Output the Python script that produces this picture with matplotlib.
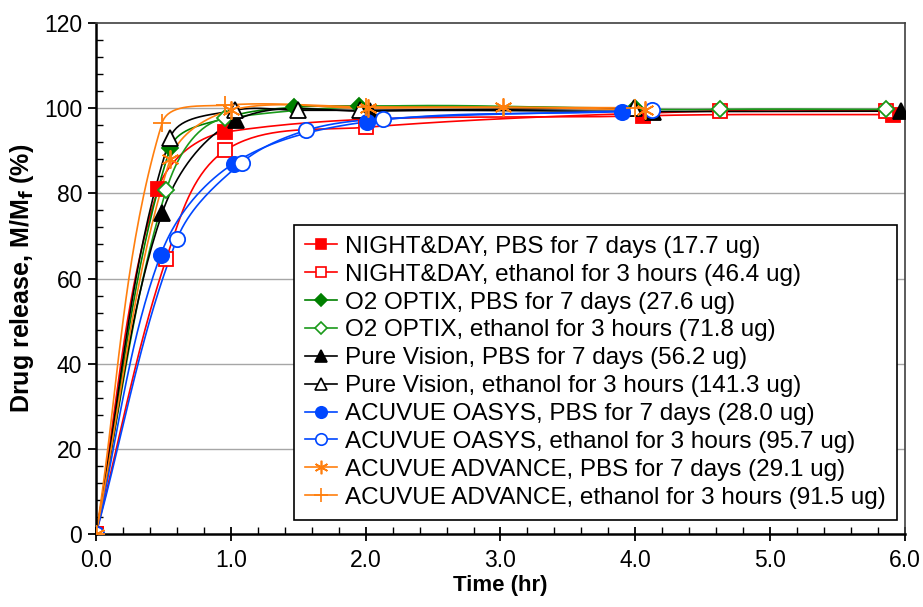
import numpy as np
import matplotlib.pyplot as plt

plt.rcParams['font.family'] = ['Liberation Sans', 'DejaVu Sans']

# ---------------------------------------------------------------
# Data (time in hr, release in %)
# ---------------------------------------------------------------
nd_pbs_t = [0.0, 0.46, 0.96, 4.06, 5.91]
nd_pbs_y = [0.0, 81.0, 94.4, 98.2, 98.5]

nd_eth_t = [0.0, 0.52, 0.96, 2.0, 4.63, 5.86]
nd_eth_y = [0.0, 64.5, 90.1, 95.5, 99.4, 99.4]

o2_pbs_t = [0.0, 0.55, 1.0, 1.47, 1.95, 4.0]
o2_pbs_y = [0.0, 90.6, 98.0, 100.2, 100.5, 100.0]

o2_eth_t = [0.0, 0.52, 0.96, 4.63, 5.86]
o2_eth_y = [0.0, 80.7, 97.6, 99.7, 99.7]

pv_pbs_t = [0.0, 0.49, 1.04, 2.03, 4.13, 5.97]
pv_pbs_y = [0.0, 75.3, 97.2, 99.3, 99.2, 99.3]

pv_eth_t = [0.0, 0.55, 1.03, 1.5, 1.96, 3.99]
pv_eth_y = [0.0, 93.0, 99.5, 99.5, 99.5, 100.0]

oa_pbs_t = [0.0, 0.48, 1.02, 2.01, 3.9]
oa_pbs_y = [0.0, 65.6, 87.0, 96.8, 99.2]

oa_eth_t = [0.0, 0.60, 1.08, 1.56, 2.13, 4.12]
oa_eth_y = [0.0, 69.2, 87.2, 94.8, 97.5, 99.5]

ad_pbs_t = [0.0, 0.55, 1.0, 2.02, 3.02, 4.07]
ad_pbs_y = [0.0, 88.0, 99.5, 100.0, 100.2, 99.6]

ad_eth_t = [0.0, 0.49, 0.96, 2.0, 4.0]
ad_eth_y = [0.0, 96.5, 100.7, 100.3, 100.1]

labels = [
    "NIGHT&DAY, PBS for 7 days (17.7 ug)",
    "NIGHT&DAY, ethanol for 3 hours (46.4 ug)",
    "O2 OPTIX, PBS for 7 days (27.6 ug)",
    "O2 OPTIX, ethanol for 3 hours (71.8 ug)",
    "Pure Vision, PBS for 7 days (56.2 ug)",
    "Pure Vision, ethanol for 3 hours (141.3 ug)",
    "ACUVUE OASYS, PBS for 7 days (28.0 ug)",
    "ACUVUE OASYS, ethanol for 3 hours (95.7 ug)",
    "ACUVUE ADVANCE, PBS for 7 days (29.1 ug)",
    "ACUVUE ADVANCE, ethanol for 3 hours (91.5 ug)",
]

series = [
    (nd_pbs_t, nd_pbs_y), (nd_eth_t, nd_eth_y),
    (o2_pbs_t, o2_pbs_y), (o2_eth_t, o2_eth_y),
    (pv_pbs_t, pv_pbs_y), (pv_eth_t, pv_eth_y),
    (oa_pbs_t, oa_pbs_y), (oa_eth_t, oa_eth_y),
    (ad_pbs_t, ad_pbs_y), (ad_eth_t, ad_eth_y),
]

red, green, blue, orange = "#ff0000", "#008000", "#0047ff", "#ff7f0e"
styles = [
    dict(color=red, marker="s", mfc=red, ms=10),
    dict(color=red, marker="s", mfc="white", ms=10),
    dict(color=green, marker="D", mfc=green, ms=8),
    dict(color="#1a9a1a", marker="D", mfc="white", ms=8),
    dict(color="black", marker="^", mfc="black", ms=11),
    dict(color="black", marker="^", mfc="white", ms=11),
    dict(color=blue, marker="o", mfc=blue, ms=11),
    dict(color=blue, marker="o", mfc="white", ms=11),
    dict(color=orange, marker=(6, 2, 0), mfc=orange, ms=13),
    dict(color=orange, marker="+", mfc=orange, ms=13),
]

# approx. pixels per data unit, so the smoothing works in screen space
SX, SY = 135.0, 4.25


def smooth(xs, ys, n=40, k=1 / 3):
    # smoothed line like a spreadsheet chart: cubic Bezier segments,
    # tangent along the neighbours, length scaled to the segment
    P = np.column_stack([np.asarray(xs) * SX, np.asarray(ys) * SY])
    m = len(P)
    tang = np.zeros_like(P)
    for i in range(m):
        a = P[max(i - 1, 0)]
        b = P[min(i + 1, m - 1)]
        d = b - a
        tang[i] = d / (np.hypot(*d) + 1e-12)
    out = [P[:1]]
    t = np.linspace(0, 1, n)[1:, None]
    for i in range(m - 1):
        p1, p2 = P[i], P[i + 1]
        L = np.hypot(*(p2 - p1))
        c1 = p1 + tang[i] * L * k
        c2 = p2 - tang[i + 1] * L * k
        seg = ((1 - t) ** 3 * p1 + 3 * (1 - t) ** 2 * t * c1
               + 3 * (1 - t) * t ** 2 * c2 + t ** 3 * p2)
        out.append(seg)
    curve = np.vstack(out)
    return curve[:, 0] / SX, curve[:, 1] / SY


fig = plt.figure(figsize=(9.23, 6.07), dpi=100)
ax = fig.add_axes([96 / 923, 1 - 534 / 607, 809 / 923, 511 / 607])

for yv in [20, 40, 60, 80, 100]:
    ax.axhline(yv, color="#a6a6a6", lw=1.0, zorder=0)

handles = []
for (t, y), st, lab in zip(series, styles, labels):
    sx, sy = smooth(t, y)
    ax.plot(sx, sy, color=st["color"], lw=1.2, zorder=2)
    ax.plot(t, y, ls="none", marker=st["marker"], ms=st["ms"],
            mfc=st["mfc"], mec=st["color"], mew=1.3, zorder=3)
    h, = ax.plot([], [], color=st["color"], lw=1.2, marker=st["marker"],
                 ms=st["ms"], mfc=st["mfc"], mec=st["color"], mew=1.2)
    handles.append(h)

ax.set_xlim(0, 6)
ax.set_ylim(0, 120)
ax.set_xticks(np.arange(0, 6.01, 1.0))
ax.set_xticklabels([f"{v:.1f}" for v in np.arange(0, 6.01, 1.0)])
ax.set_xticks(np.arange(0, 6.01, 0.2), minor=True)
ax.set_yticks(np.arange(0, 121, 20))
ax.set_yticks(np.arange(0, 121, 4), minor=True)

ax.tick_params(axis="x", which="major", direction="inout", length=10,
               width=1.3, labelsize=16.5, pad=6)
ax.tick_params(axis="y", which="major", direction="out", length=6,
               width=1.3, labelsize=16.5, pad=4)
ax.tick_params(which="minor", direction="in", length=5, width=1.0)
ax.tick_params(top=False, right=False, which="both")

for side in ["left", "bottom"]:
    ax.spines[side].set_linewidth(1.8)
    ax.spines[side].set_color("black")
for side in ["top", "right"]:
    ax.spines[side].set_linewidth(1.2)
    ax.spines[side].set_color("#404040")

ax.set_xlabel("Time (hr)", fontsize=16, fontweight="bold", labelpad=2)
ax.set_ylabel(r"Drug release, M/M$_\mathbf{f}$ (%)", fontsize=18,
              fontweight="bold", labelpad=6)

leg = ax.legend(handles, labels, loc="upper left",
                bbox_to_anchor=(294 / 923, 1 - 225 / 607),
                bbox_transform=fig.transFigure, borderaxespad=0,
                fontsize=17.5, frameon=True, fancybox=False,
                edgecolor="black", framealpha=1, handlelength=1.3,
                handletextpad=0.35, labelspacing=0.24, borderpad=0.45,
                markerscale=0.75)
leg.get_frame().set_linewidth(1.2)
leg.set_zorder(5)

fig.savefig("out.png", dpi=100, facecolor="white")
